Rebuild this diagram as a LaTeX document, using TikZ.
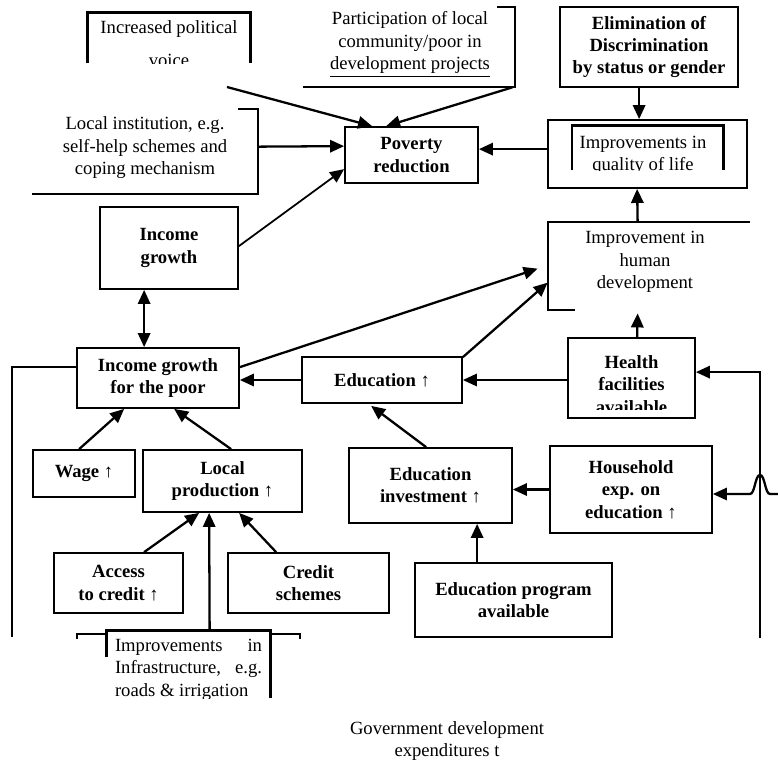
\documentclass[tikz,border=0pt]{standalone}
\usepackage{fontspec}
\setmainfont{Liberation Serif}
\usetikzlibrary{arrows.meta,calc}
\begin{document}
\begin{tikzpicture}[x=0.02cm,y=-0.02cm,
  tx/.style={align=center, inner sep=0pt, font=\fontsize{10.6}{12.8}\selectfont},
  bx/.style={draw, line width=1pt, inner sep=0pt, align=center, font=\fontsize{10.6}{12.8}\selectfont\bfseries},
  fr/.style={inner sep=0pt},
  sz/.style 2 args={minimum width=#1*0.02cm, minimum height=#2*0.02cm},
  ar/.style={line width=1.3pt, -{Triangle[length=8pt,width=7pt]}},
  dar/.style={line width=1.3pt, {Triangle[length=8pt,width=7pt]}-{Triangle[length=8pt,width=7pt]}},
  ln/.style={line width=1pt},
  thk/.style={line width=1.7pt}]
\useasboundingbox (0,0) rectangle (778,762);

% ---- top row ----
\node[fr, sz={162}{50}] (voice) at (169,38) {};
\draw[thk] (voice.south west) -- (voice.north west) -- (voice.north east) -- (voice.south east);
\begin{scope}
  \clip (88,13) rectangle (250,63);
  \node[tx] (voicetext) at (169,29) {Increased political};
  \node[tx] (voicetextb) at (169,60.5) {voice};
\end{scope}

\node[fr, sz={212}{80}] (part) at (409,47) {};
\draw[ln] ($(part.north east)+(-18,0)$) -- (part.north east) -- (part.south east) -- (part.south west);
\node[tx] (parttext) at (410,44.5) {Participation of local\\community/poor in\\\underline{development projects}};

\node[bx, sz={178}{80}] (elim) at (649,47) {Elimination of\\Discrimination\\by status or gender};

\node[fr, sz={226}{85}] (li) at (145,151.5) {};
\draw[ln] ($(li.north east)+(-20,0)$) -- (li.north east) -- (li.south east) -- (li.south west);
\node[tx] (litext) at (145,148) {Local institution, e.g.\\self-help schemes and\\coping mechanism};

\node[bx, sz={133}{56}] (poverty) at (411.5,155) {Poverty\\reduction};

\node[bx, sz={199}{68}] (qual) at (647.5,154) {};
\draw[thk] (572,170) -- (572,125) -- (723,125) -- (723,170);
\begin{scope}
  \clip (573,126) rectangle (722,170);
  \node[tx] (qualtext) at (643,155.5) {Improvements in\\quality of life};
\end{scope}

% ---- middle ----
\node[bx, sz={138}{82}] (ig) at (169,248) {Income\\growth};

\node[fr, sz={202}{88}] (hd) at (649,266) {};
\draw[ln] (hd.north east) -- (hd.north west) -- (hd.south west) -- ($(hd.south west)+(27,0)$);
\node[tx] (hdtext) at (645,262) {Improvement in\\human\\development};

\node[bx, sz={162}{60}] (ip) at (158,378) {Income growth\\for the poor};
\node[bx, sz={160}{46}] (ed) at (382,380) {Education ↑};

\node[bx, sz={127}{80}] (hl) at (631.5,378) {};
\begin{scope}
  \clip (569,339) rectangle (694,409);
  \node[tx, font=\fontsize{10.6}{12.8}\selectfont\bfseries] (hltext) at (631.5,384.5) {Health\\facilities\\available};
\end{scope}

% ---- lower ----
\node[bx, sz={102}{47}] (wg) at (84,473.5) {Wage ↑};
\node[bx, sz={159}{62}] (lp) at (222.5,481) {Local\\production ↑};
\node[bx, sz={163}{75}] (ei) at (430.5,485.5) {Education\\investment ↑};
\node[bx, sz={162}{87}] (hh) at (631,489.5) {Household\\exp. on\\education ↑};
\node[bx, sz={129}{60}] (ac) at (118.5,583) {Access\\to credit ↑};
\node[bx, sz={161}{60}] (cr) at (308.5,583) {Credit\\schemes};
\node[bx, sz={197}{74}] (ep) at (513.5,600) {Education program\\available};

\node[fr, sz={163}{67}] (inf) at (188.5,664.5) {};
\draw[thk] ($(inf.north west)+(0,26)$) -- (inf.north west) -- (inf.north east) -- (inf.south east);
\draw[line width=0.8pt] (77,639) -- (77,634) -- (inf.north west |- 0,634);
\draw[line width=0.8pt] (inf.north east |- 0,634) -- (300,634) -- (300,639);
\begin{scope}
  \clip (108,632) rectangle (269,698);
  \node[tx, text width=2.94cm, align=justify] (inftext) at (188.5,669.5) {Improvements\hfill in\\Infrastructure,\hfill e.g.\\roads \& irrigation};
\end{scope}

\node[tx] (gov) at (447,741) {Government development\\expenditures t};

% ---- connectors ----
\coordinate (vo) at (227,87);
\draw[ar] (vo) -- ($(poverty.north west)+(28,0)$);
\draw[ar] ($(part.south east)+(-3,0)$) -- ($(poverty.north west)+(42,0)$);
\draw[ar] ($(li.north east)+(0,38)$) -- ($(poverty.north west)+(0,20)$);
\draw[line width=1pt, -{Triangle[length=8pt,width=7pt]}] ($(ig.north east)+(0,40)$) -- ($(poverty.north west)+(0,43)$);
\draw[ar] ($(qual.north west)+(0,30)$) -- ($(poverty.north east)+(0,23)$);
\draw[ar] ($(elim.south west)+(80,0)$) -- ($(qual.north west)+(92,0)$);
\draw[ar] ($(hd.north west)+(90,0)$) -- ($(qual.south west)+(90,0)$);
\draw[dar] ($(ig.south west)+(45,0)$) -- ($(ip.north west)+(68,0)$);
\draw[ar] ($(ip.north east)+(0,20)$) -- ($(hd.north west)+(-10,47)$);
\draw[ar] ($(ed.north east)+(0,1)$) -- ($(hd.north west)+(0,61)$);
\draw[ar] (ed.west) -- (ed.west -| ip.east);
\draw[ar] (ed.east -| hl.west) -- (ed.east);
\draw[ar] ($(hl.north west)+(70,0)$) -- ($(hd.south west)+(90,3)$);
\coordinate (rb) at (760,638);
\draw[ar] (rb) |- ($(hl.north east)+(0,35)$);
\coordinate (re) at (778,494);
\draw[ar] (re) -- ++(-8,0) .. controls +(-5,0) and +(5,0) .. ++(-10,-19)
  .. controls +(-5,0) and +(5,0) .. ++(-10,19) -- ($(hh.east)+(0,4.5)$);
\draw[ar] (hh.west) -- (hh.west -| ei.east);
\draw[ar] ($(ei.north west)+(78,0)$) -- ($(ed.south west)+(70,2)$);
\draw[ar] ($(ep.north west)+(63,0)$) -- ($(ei.south west)+(129,0)$);
\draw[ar] ($(wg.north west)+(47,0)$) -- ($(ip.south west)+(48,0)$);
\draw[ar] ($(lp.north west)+(89,0)$) -- ($(ip.south west)+(98,0)$);
\draw[ar] ($(ac.north west)+(91,0)$) -- ($(lp.south west)+(57,0)$);
\draw[ar] ($(cr.north west)+(49,0)$) -- ($(lp.south west)+(97,0)$);
\draw[ar] ($(inf.north west)+(103,0)$) -- ($(lp.south west)+(67,0)$);
\coordinate (lb) at (12,637);
\draw[ln] ($(ip.north west)+(0,20)$) -| (lb);
\end{tikzpicture}
\end{document}
